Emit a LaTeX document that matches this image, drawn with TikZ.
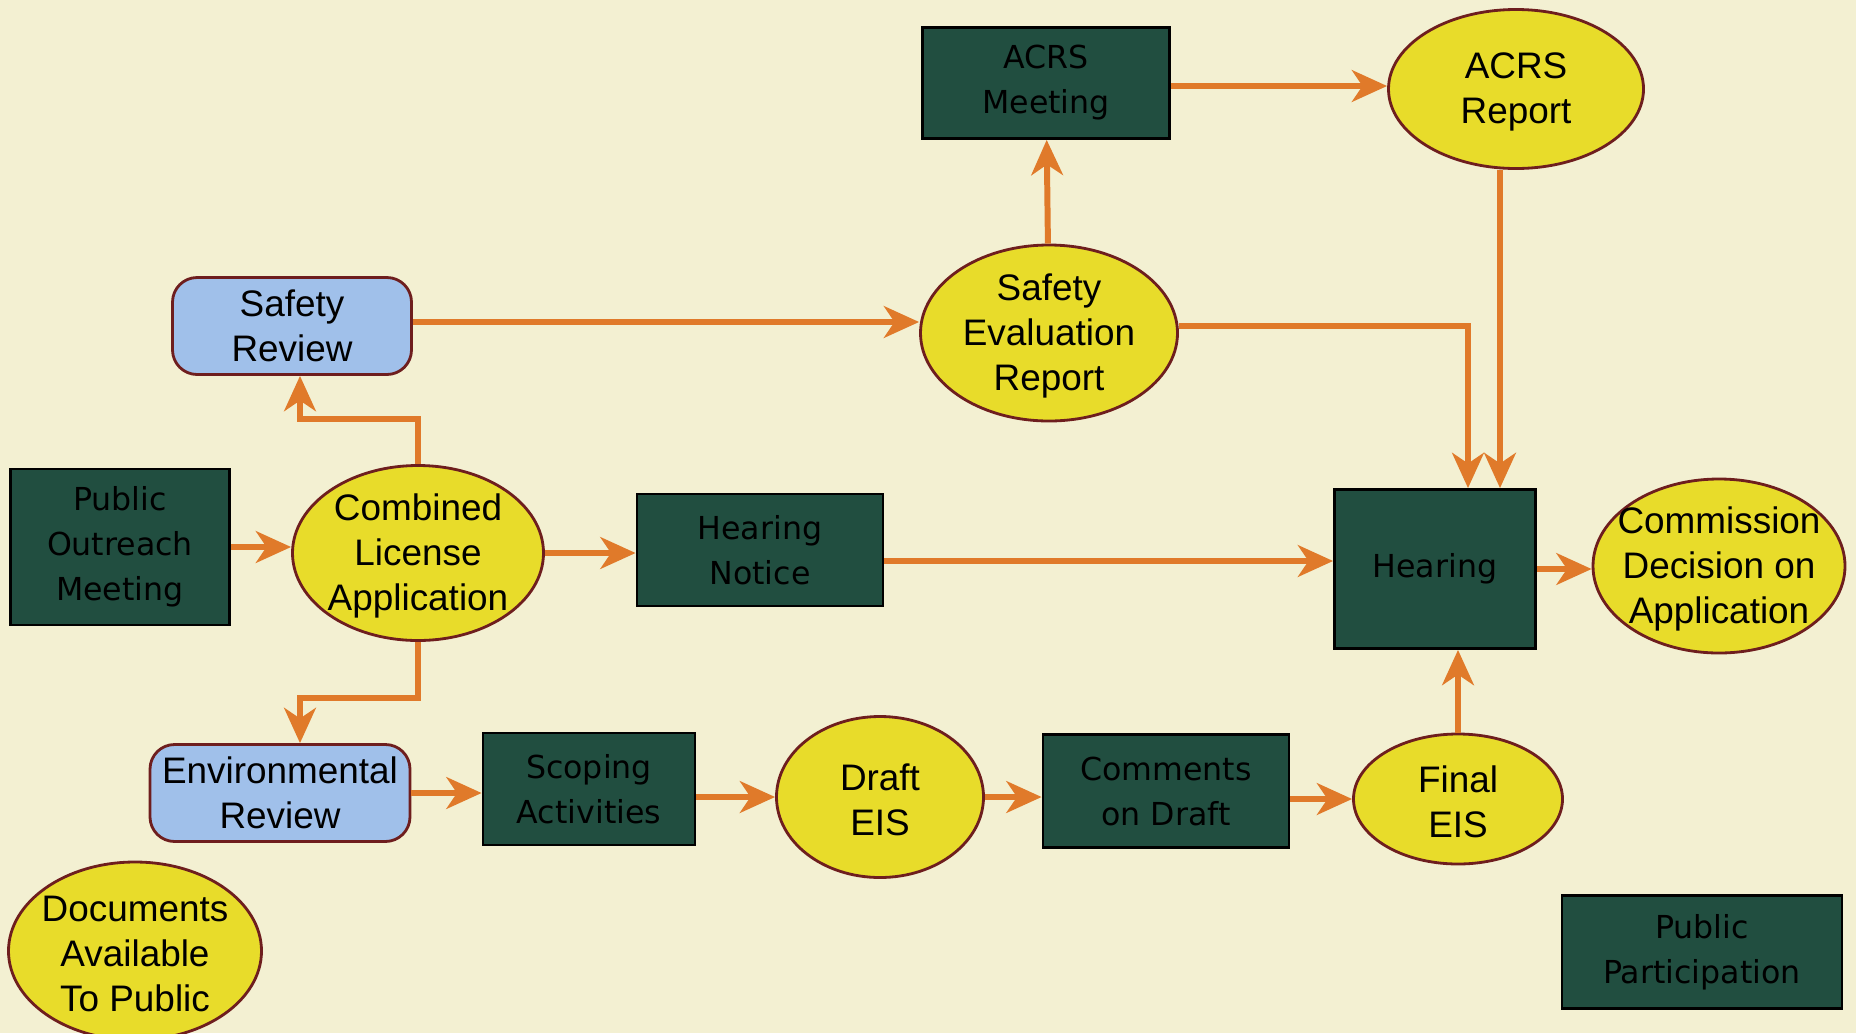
\documentclass[tikz,border=0pt]{standalone}
\usepackage{fontspec}
\setmainfont{Liberation Sans}
\newfontfamily\boxfont{DejaVu Sans}
\usetikzlibrary{shapes.geometric,arrows.meta}
\definecolor{bgcream}{RGB}{243,240,210}
\definecolor{boxgreen}{RGB}{33,78,64}
\definecolor{ovalyellow}{RGB}{232,220,42}
\definecolor{ovalrim}{RGB}{110,30,30}
\definecolor{reviewblue}{RGB}{160,192,234}
\definecolor{arroworange}{RGB}{224,122,42}
\tikzset{
  flow/.style={draw=arroworange, line width=1.7pt, -{Stealth[length=10pt,width=9pt,inset=3pt]}},
  darkbox/.style={rectangle, draw=black, line width=0.8pt, fill=boxgreen, inner sep=0pt, align=center,
    font=\boxfont\fontsize{9}{12.8}\selectfont, text=black},
  ovaltext/.style={align=center, inner sep=0pt, yshift=-0.03cm, font=\fontsize{10.5}{12.9}\selectfont},
  docoval/.style={ellipse, draw=ovalrim, line width=0.8pt, fill=ovalyellow, inner sep=0pt,
    label={[ovaltext]center:#1}},
  reviewbox/.style={rectangle, rounded corners=7pt, draw=ovalrim, line width=0.8pt, fill=reviewblue,
    inner sep=0pt, align=center, font=\fontsize{10.5}{12.9}\selectfont}
}

\begin{document}
\begin{tikzpicture}
        \fill[bgcream] (0,0) rectangle (18.56,-10.33);
        \useasboundingbox (0,0) rectangle (18.56,-10.33);

        % top row
        \node (acrsmeet) at (10.46,-0.83) [darkbox, minimum width=2.47cm, minimum height=1.11cm] {ACRS\\Meeting};
        \node (acrsrep) at (15.16,-0.89) [docoval={ACRS\\Report}, minimum width=2.55cm, minimum height=1.59cm] {};
        \node (sr) at (2.92,-3.26) [reviewbox, minimum width=2.39cm, minimum height=0.97cm] {Safety\\Review};
        \node (ser) at (10.49,-3.33) [docoval={Safety\\Evaluation\\Report}, minimum width=2.57cm, minimum height=1.76cm] {};

        % middle row
        \node (pom) at (1.20,-5.47) [darkbox, minimum width=2.19cm, minimum height=1.56cm] {Public\\Outreach\\Meeting};
        \node (cla) at (4.18,-5.53) [docoval={Combined\\License\\Application}, minimum width=2.51cm, minimum height=1.75cm] {};
        \node (hnote) at (7.60,-5.50) [darkbox, minimum width=2.46cm, minimum height=1.12cm] {Hearing\\Notice};
        \node (hear) at (14.35,-5.69) [darkbox, minimum width=2.01cm, minimum height=1.59cm] {Hearing};
        \node (cda) at (17.19,-5.66) [docoval={Commission\\Decision on\\Application}, minimum width=2.52cm, minimum height=1.74cm] {};

        % bottom row
        \node (er) at (2.80,-7.93) [reviewbox, minimum width=2.60cm, minimum height=0.97cm] {Environmental\\Review};
        \node (scope) at (5.89,-7.89) [darkbox, minimum width=2.12cm, minimum height=1.12cm] {Scoping\\Activities};
        \node (deis) at (8.80,-7.97) [docoval={Draft\\EIS}, minimum width=2.07cm, minimum height=1.61cm] {};
        \node (cod) at (11.66,-7.91) [darkbox, minimum width=2.46cm, minimum height=1.13cm] {Comments\\on Draft};
        \node (feis) at (14.58,-7.99) [docoval={Final\\EIS}, minimum width=2.09cm, minimum height=1.30cm] {};

        % legend
        \node (docs) at (1.35,-9.51) [docoval={Documents\\Available\\To Public}, minimum width=2.53cm, minimum height=1.78cm] {};
        \node (pp) at (17.02,-9.52) [darkbox, minimum width=2.80cm, minimum height=1.13cm] {Public\\Participation};

        \coordinate (hin1) at ([xshift=0.33cm]hear.north);
        \coordinate (hin2) at ([xshift=0.65cm]hear.north);

        \draw[flow] (pom) -- (pom -| cla.west);
        \draw[flow] (cla) -- (cla -| hnote.west);
        \draw[flow] (cla.north) -- ++(0,0.45) -| ([xshift=0.08cm]sr.south);
        \draw[flow] (cla.south) -- ++(0,-0.56) -| ([xshift=0.2cm]er.north);
        \draw[flow] ([yshift=0.04cm]sr.east) -- ([yshift=0.04cm]sr.east -| ser.west);
        \draw[flow] (ser) -- (acrsmeet);
        \draw[flow] ([yshift=-0.03cm]acrsmeet.east) -- ([yshift=-0.03cm]acrsmeet.east -| acrsrep.west);
        \draw[flow] (hin2 |- acrsrep.south) -- (hin2);
        \draw[flow] ([yshift=0.07cm]ser.east) -| (hin1);
        \draw[flow] ([yshift=-0.11cm]hnote.east) -- ([yshift=-0.11cm]hnote.east -| hear.west);
        \draw[flow] (hear) -- (hear -| cda.west);
        \draw[flow] (er) -- (er -| scope.west);
        \draw[flow] (scope.east |- deis) -- (deis);
        \draw[flow] (deis) -- (deis -| cod.west);
        \draw[flow] (cod.east |- feis) -- (feis);
        \draw[flow] (feis) -- (feis |- hear.south);
\end{tikzpicture}
\end{document}
